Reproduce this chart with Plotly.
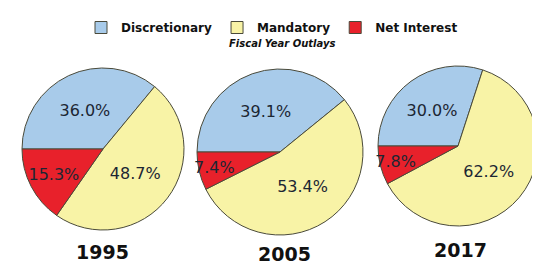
import plotly.graph_objects as go

categories = ["Discretionary", "Mandatory", "Net Interest"]
years = ["1995", "2005", "2017"]
values_1995 = [36.0, 48.7, 15.3]
values_2005 = [39.1, 53.4, 7.4]
values_2017 = [30.0, 62.2, 7.8]
series = [values_1995, values_2005, values_2017]

colors = ["#a8cbea", "#f8f3a6", "#e8212b"]

OFF = 8  # default page body margin
W, H = 540 - OFF, 266 - OFF
# pie centers (px, in screenshot coordinates) and radii
geo = [(103, 149, 81), (280, 152, 83), (458, 146, 80)]
year_pos = [(102, 252), (284, 254), (460, 250)]

def px_x(x):
    return (x - OFF) / W

def px_y(y):
    return 1 - (y - OFF) / H

fig = go.Figure()
for i, (vals, yr) in enumerate(zip(series, years)):
    cx, cy, r = geo[i]
    fig.add_trace(go.Pie(
        labels=categories, values=vals, sort=False, direction="clockwise",
        rotation=270,
        marker=dict(colors=colors, line=dict(color="#4a4a3a", width=1)),
        texttemplate="%{value:.1f}%", textposition="inside",
        insidetextorientation="horizontal",
        textfont=dict(family="DejaVu Sans", size=16, color="#1c2633"),
        domain=dict(x=[px_x(cx - r), px_x(cx + r)],
                    y=[px_y(cy + r), px_y(cy - r)]),
        showlegend=(i == 0), hoverinfo="label+value",
    ))
    yx, yy = year_pos[i]
    fig.add_annotation(text="<b>%s</b>" % yr, x=px_x(yx), y=px_y(yy),
                       xref="paper", yref="paper", showarrow=False,
                       font=dict(family="DejaVu Sans", size=19, color="#111"),
                       xanchor="center", yanchor="middle")

fig.add_annotation(text="<b><i>Fiscal Year Outlays</i></b>", x=px_x(282), y=px_y(43),
                   xref="paper", yref="paper", showarrow=False,
                   font=dict(family="DejaVu Sans", size=10, color="#111"),
                   xanchor="center", yanchor="middle")

fig.update_layout(
    width=W, height=H,
    margin=dict(l=0, r=0, t=0, b=0),
    paper_bgcolor="white",
    uniformtext=dict(minsize=16, mode="show"),
    legend=dict(orientation="h", x=px_x(272), xanchor="center", y=px_y(13), yanchor="top",
                font=dict(family="DejaVu Sans", size=12, color="#111", weight="bold"),
                traceorder="normal"),
)
fig.write_html("out.html")
